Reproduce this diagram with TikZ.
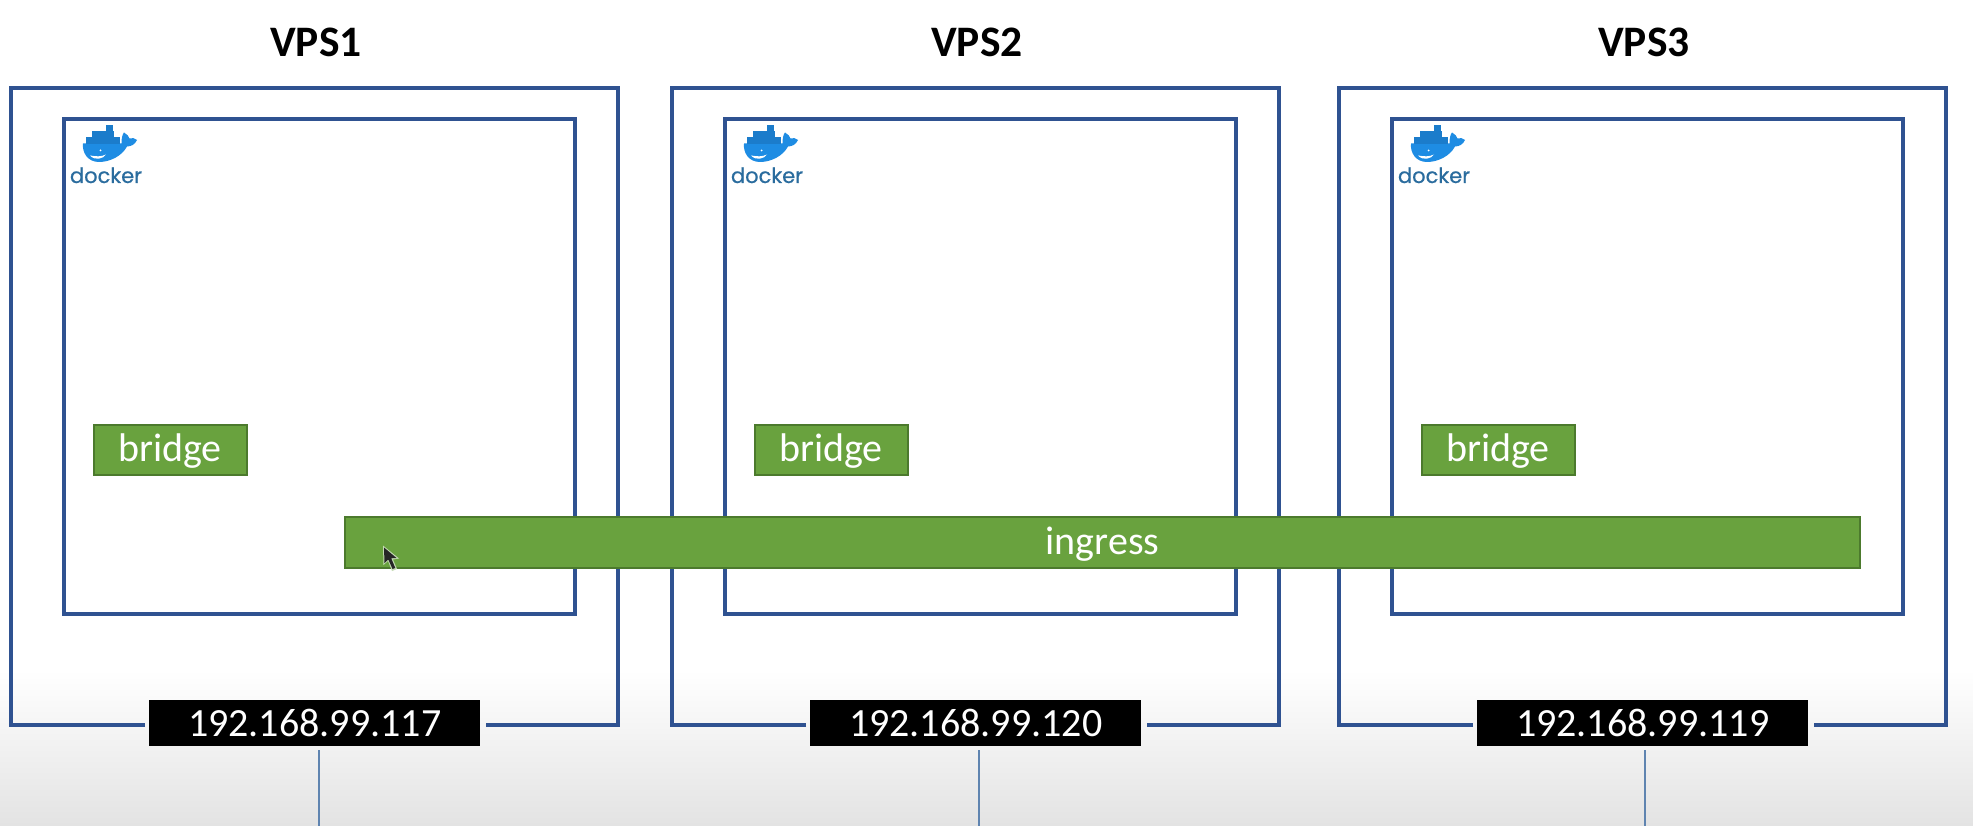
\documentclass[tikz,border=0pt]{standalone}
\usepackage{fontspec}
\setmainfont{Carlito}
\newfontfamily\dockerfont[FakeBold=0.6]{Poppins}
\definecolor{boxblue}{HTML}{2F5291}
\definecolor{linkblue}{HTML}{5F84B0}
\definecolor{netgreen}{HTML}{69A23E}
\definecolor{netedge}{HTML}{4C7A2D}
\definecolor{whaleblue}{HTML}{1E8CE3}
\definecolor{stackblue}{HTML}{1B7CCB}
\definecolor{dockerink}{HTML}{2A6C9E}
\tikzset{
  x=1pt,y=-1pt,
  framebox/.style={draw=boxblue,line width=3.6pt,line join=miter},
  inbox/.style={framebox,rectangle,inner sep=0pt,outer sep=0pt,anchor=north west,minimum width=511pt,minimum height=495pt},
  netbox/.style={rectangle,draw=netedge,fill=netgreen,line width=2pt,text=white,inner sep=0pt,outer sep=0pt,text height=30pt,text depth=6pt,font=\fontsize{40}{40}\selectfont},
  bridgebox/.style={netbox,minimum width=153pt,minimum height=50pt},
  ipbox/.style={rectangle,fill=black,text=white,inner sep=0pt,outer sep=0pt,minimum width=331pt,minimum height=46pt,font=\fontsize{40}{40}\selectfont},
  vpstitle/.style={font=\fontsize{43.5}{44}\selectfont\bfseries,text=black,inner sep=0pt},
  link/.style={draw=linkblue,line width=1.2pt},
  dockerword/.style={text=dockerink,inner sep=0pt,anchor=base,font=\fontsize{21}{21}\selectfont\dockerfont}
}
\newcommand{\whale}[1]{%
  \begin{scope}[shift={(#1,0)}]
    % hull and tail
    \fill[whaleblue] (83,143.5) -- (121.5,143.5)
      .. controls (121.5,138) and (122.5,134) .. (124,132.5)
      .. controls (127,134) and (129,136.5) .. (129.5,138.5)
      .. controls (132,137.5) and (135,138) .. (137,140)
      .. controls (135,144.5) and (131,146.5) .. (127,146.5)
      .. controls (122,156) and (110,162) .. (99,162)
      .. controls (88,162) and (82,153) .. (83,143.5) -- cycle;
    % containers
    \fill[stackblue] (86,137) rectangle (120,144);
    \fill[stackblue] (92,131.5) rectangle (114,137.5);
    \fill[stackblue] (105.5,125) rectangle (113,132);
    % belly
    \fill[white] (90,155.5) .. controls (96,156.5) and (101,157) .. (106,154.5)
      .. controls (103,159) and (95,161) .. (90,155.5) -- cycle;
    \fill[white] (100.5,150.5) circle (1pt);
    \node[dockerword] at (106,183) {docker};
  \end{scope}}
\begin{document}
\begin{tikzpicture}
  \useasboundingbox (0,0) rectangle (1973,826);
  \fill[white] (0,0) rectangle (1973,826);
  \shade[top color=white,bottom color=black!11] (0,670) rectangle (1973,826);

  \foreach \n/\dx/\tt/\ip/\lx in {1/0/VPS1/192.168.99.117/319,2/661/VPS2/192.168.99.120/979,3/1328/VPS3/192.168.99.119/1645}{
    \coordinate (cnw\n) at (11+\dx,88);
    \coordinate (cne\n) at (618+\dx,88);
    \coordinate (csw\n) at (11+\dx,725);
    \coordinate (cse\n) at (618+\dx,725);
    \coordinate (gapl\n) at (145+\dx,725);
    \coordinate (gapr\n) at (486+\dx,725);
    \node[vpstitle] (title\n) at (316+\dx,42) {\tt};
    \draw[framebox] (gapl\n) -- (csw\n) -- (cnw\n) -- (cne\n) -- (cse\n) -- (gapr\n);
    \node[inbox] (inner\n) at (64+\dx,119) {};
    \whale{\dx}
    \node[bridgebox] (bridge\n) at (170+\dx,449.5) {bridge};
    \node[ipbox] (ip\n) at (314.7+\dx,723) {\ip};
    \coordinate (linkend\n) at (\lx,826);
    \draw[link] ([yshift=-4pt]ip\n.south -| linkend\n) -- (linkend\n);
  }
  \node[netbox,minimum width=1515pt,minimum height=51pt,anchor=north west] (ingress) at (345,517) {ingress};
  % mouse pointer
  \fill[white!60!netgreen] (383,545.5) -- (383.5,565) -- (388,561) -- (392,571) -- (397,569) -- (393,559.5) -- (399,558.5) -- cycle;
  \fill[black!85] (384,547.5) -- (384.5,563) -- (388.3,559.5) -- (392.5,569) -- (395.3,568) -- (391.2,558.3) -- (396.5,558) -- cycle;
\end{tikzpicture}
\end{document}
